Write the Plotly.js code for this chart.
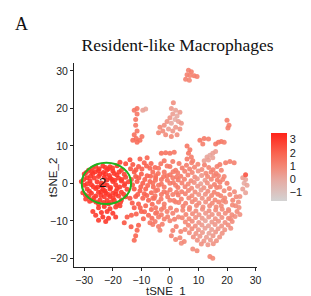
<!DOCTYPE html>
<html>
<head>
<meta charset="utf-8">
<script src="https://cdn.plot.ly/plotly-3.0.1.min.js"></script>
<style>html,body{margin:0;padding:0;background:#fff;}#chart{width:311px;height:296px;}</style>
</head>
<body>
<div id="chart"></div>
<script>
// Each cell: [tSNE_1, tSNE_2, expression]
const leftCluster = [
  [-26,4.5,3.0],[-23.5,4.6,3.1],[-21,4.4,2.9],[-18.5,4.7,3.0],
  [-28.5,3.5,2.9],[-25,3.4,3.2],[-22,3.6,3.0],[-20,3.3,3.1],[-17,3.5,2.8],
  [-30,2.5,3.0],[-27,2.6,3.1],[-24.5,2.4,3.2],[-22.5,2.5,2.9],[-19.5,2.6,3.0],[-16,2.4,2.8],
  [-29,1.5,3.1],[-26.5,1.4,3.0],[-23,1.6,3.2],[-21,1.5,3.0],[-18,1.4,2.9],[-15.5,1.6,2.7],
  [-31,0.5,3.0],[-28,0.6,3.2],[-25.5,0.4,3.1],[-20,0.5,3.0],[-17,0.6,2.9],[-14.5,0.4,2.8],
  [-30,-0.5,3.1],[-27.5,-0.4,3.0],[-24,-0.6,3.2],[-22,-0.5,3.1],[-19,-0.4,3.0],[-16,-0.6,2.8],
  [-29,-1.5,3.0],[-26,-1.4,3.1],[-23.5,-1.6,3.2],[-21,-1.5,3.0],[-18.5,-1.4,2.9],[-15,-1.6,2.8],
  [-30.5,-2.5,2.9],[-27.5,-2.6,3.1],[-25,-2.4,3.0],[-22.5,-2.5,3.2],[-20,-2.6,3.0],[-17,-2.4,2.9],
  [-28.5,-3.5,3.0],[-26,-3.4,3.1],[-23,-3.6,3.0],[-21,-3.5,3.2],[-18,-3.4,2.9],[-15.5,-3.6,2.8],
  [-27,-4.5,3.0],[-24.5,-4.4,3.1],[-22,-4.6,3.0],[-19.5,-4.5,2.9],[-17,-4.4,2.8],
  [-25,-5.5,3.0],[-21.5,-5.4,3.1],[-18.5,-5.6,2.9],
  [-27.5,3.1,3.0],[-24,0.1,3.1],[-21.5,3.9,3.0],[-19,-2.9,3.1],[-29.5,-4.2,2.9],[-17.5,5.6,2.8],
  [-15.5,5.2,2.6],[-14,6.3,2.5],[-22.8,-2.0,3.1],[-26.8,-0.9,3.0],[-20.4,1.1,3.1],
  [-27.2,4.0,3.0],[-24.8,3.9,3.1],[-22.6,4.2,3.0],[-20.1,4.1,2.9],[-17.8,3.0,2.9],[-29.3,2.9,3.0],
  [-26.1,3.1,3.1],[-23.3,2.9,3.2],[-21.2,2.1,3.0],[-18.6,2.2,3.0],[-16.9,1.0,2.9],[-30.2,1.0,3.0],
  [-27.8,1.9,3.1],[-25.0,1.8,3.0],[-22.1,0.9,3.2],[-19.3,0.8,3.0],[-15.8,-0.1,2.8],[-29.0,-0.1,3.0],
  [-25.3,-1.0,3.1],[-23.0,-0.2,3.0],[-20.8,-1.1,3.1],[-17.6,-1.0,2.9],[-28.2,-2.1,3.0],[-24.1,-2.2,3.1],
  [-21.6,-3.0,3.0],[-18.9,-2.1,3.0],[-16.2,-2.9,2.8],[-29.6,-3.1,2.9],[-26.7,-3.9,3.0],[-24.2,-3.2,3.1],
  [-19.9,-3.9,3.0],[-17.3,-5.0,2.8],[-25.9,-5.0,3.0],[-23.2,-5.1,3.1],[-20.6,-5.0,2.9],[-28.1,-4.8,2.9]
];
const belowCluster = [
  [-25,-6.5,3.0],[-23,-6.2,3.1],[-21,-6.8,3.0],[-19,-6.3,2.9],[-24,-7.8,3.1],[-22,-7.5,3.0],
  [-20,-8.0,3.0],[-26,-8.5,2.9],[-23.5,-9.0,3.1],[-21.5,-9.3,3.0],[-25,-9.8,2.9],[-19,-9.0,2.9],
  [-22.5,-10.2,3.0],[-27,-7.5,2.9],[-17.5,-6.0,2.8]
];
const midLeft = [
  [-13,5,2.3],[-11,4.5,2.2],[-9,5.5,2.0],[-7,4,1.9],[-12.5,3,2.3],[-10,2.5,2.1],[-8,2,2.0],[-6,3,1.8],
  [-13.5,1,2.4],[-11.5,0.5,2.2],[-9.5,0,2.1],[-7,0.5,1.9],[-5,1.5,1.7],[-12.5,-1.5,2.3],[-10.5,-2,2.1],
  [-8.5,-1.5,2.0],[-6.5,-2.5,1.8],[-12,-3.5,2.2],[-9.5,-4,2.0],[-7.5,-4.5,1.9],[-5.5,-4,1.7],
  [-11,-5.5,2.1],[-8.5,-6,1.9],[-6.5,-7,1.8],[-10,-7.5,2.0],[-7.5,-8.5,1.8],[-5,-8,1.6],
  [-12.5,-6.5,2.2],[-14,-4,2.4],[-13.5,-8.5,2.1],[-15,-9,2.2],[-16,-10.5,2.3],
  [-13.6,-11.6,2.2],[-11,-11.2,2.0],[-11.5,-12.5,1.9],[-12,-14,1.9],[-12.5,-15.2,1.8],
  [-10.5,6.5,2.0],[-8,6.8,1.9],[-12,1.8,2.3],[-9,-2.8,2.0],
  [-13.8,3.9,2.3],[-11.9,3.6,2.2],[-9.8,3.8,2.1],[-8.2,4.6,2.0],[-6.6,5.3,1.9],[-5.2,4.2,1.8],
  [-10.9,1.5,2.2],[-8.8,1.0,2.0],[-6.8,1.9,1.9],[-13.1,-0.4,2.3],[-10.2,-0.9,2.1],[-7.8,-0.6,1.9],
  [-5.8,-1.0,1.8],[-11.3,-3.0,2.1],[-8.1,-3.2,2.0],[-6.2,-5.6,1.8],[-13.2,-5.2,2.2],[-10.4,-6.5,2.0],
  [-8.9,-7.6,1.9],[-11.8,-8.2,2.0],[-9.3,-9.4,1.9],[-6.3,-9.3,1.7]
];
const mainLeft = [
  [-4,4,1.6],[-2,3,1.5],[0,4.5,1.4],[2,3.5,1.3],[-5,2,1.6],[-3,1,1.5],[-1,2,1.4],[1,1.5,1.3],
  [-6,0,1.6],[-4,-0.5,1.5],[-2,-1,1.4],[0,0,1.3],[2,-0.5,1.2],[-5,-2,1.5],[-3,-3,1.4],[-1,-2.5,1.3],
  [1,-3,1.2],[-6,-4,1.5],[-4,-5,1.4],[-2,-5.5,1.3],[0,-4.5,1.2],[2,-5,1.1],[-5,-6.5,1.4],[-3,-7,1.3],
  [-1,-7.5,1.2],[1,-8,1.1],[-4,-9,1.3],[-2,-9.5,1.2],[0,-10,1.0],[3,-9,0.9],[-6,-11,1.3],[-4,-11.5,1.2],
  [-3.5,-12.5,1.1],[-7,-10.5,1.4],[-2,6,1.5],[1,5.8,1.3],
  [-3,8,1.6],[-1.5,8.2,1.5],[0,8,1.5],[1.5,8.3,1.4],
  [-3.2,5.2,1.5],[-1,4.6,1.4],[1.1,3.1,1.3],[-4.1,2.6,1.6],[-2.2,1.8,1.5],[0.1,2.3,1.4],[2.4,1.7,1.3],
  [-5.1,0.8,1.6],[-3,-0.2,1.5],[-0.9,0.8,1.4],[1.2,0.2,1.3],[-4.3,-1.8,1.5],[-2.1,-2.2,1.4],[0.1,-1.7,1.3],
  [2.3,-2.4,1.2],[-5.2,-3.3,1.5],[-3.1,-4.2,1.4],[-0.8,-3.6,1.3],[1.4,-4.6,1.2],[-4.6,-7.8,1.4],
  [-2.1,-6.4,1.3],[0.2,-6.6,1.2],[2.3,-7.2,1.1],[-3,-8.4,1.3],[-0.8,-8.9,1.2],[1.6,-9.6,1.1],
  [-5.2,-10.2,1.3],[-2.7,-10.9,1.2]
];
const mainBlob = [
  [3.2,5.3,1.3],[5.8,4.8,1.2],[7.6,5.5,1.1],[9.8,5.1,1.0],[12.1,4.9,1.1],
  [4.3,4.1,1.3],[6.9,3.8,1.1],[8.6,4.3,1.0],[11.2,3.7,0.8],[13.6,4.2,1.0],[15.1,3.6,1.1],
  [2.7,2.8,1.3],[5.2,3.2,1.2],[7.8,2.9,1.0],[9.9,3.3,0.7],[12.6,2.7,0.9],[14.4,3.0,1.1],[16.2,2.6,1.2],
  [3.8,1.9,1.3],[6.3,2.2,1.1],[8.7,1.7,0.8],[11.1,2.1,0.5],[13.2,1.8,0.9],[15.4,2.0,1.1],
  [2.9,0.9,1.3],[5.1,1.1,1.1],[7.4,0.7,0.9],[9.6,1.2,0.5],[12.3,0.8,0.4],[14.5,1.1,1.0],[16.6,0.9,1.2],
  [4.2,0.1,1.2],[6.4,-0.2,1.0],[8.5,0.2,0.7],[10.8,-0.1,0.3],[13.1,0.1,0.7],[15.6,-0.3,1.1],
  [2.8,-1.1,1.3],[5.3,-0.9,1.1],[7.6,-1.3,0.9],[9.7,-0.8,0.5],[11.9,-1.2,0.6],[14.2,-0.9,1.0],[16.4,-1.1,1.1],
  [4.1,-2.2,1.2],[6.5,-1.9,1.0],[8.8,-2.3,0.8],[10.9,-1.8,0.4],[13.3,-2.1,0.8],[15.5,-2.4,1.1],
  [2.9,-3.1,1.3],[5.4,-2.8,1.1],[7.7,-3.3,0.9],[10.1,-3.0,0.6],[12.4,-2.9,0.7],[14.6,-3.2,1.0],[16.8,-2.9,1.1],
  [4.0,-4.2,1.2],[6.6,-3.9,1.0],[8.9,-4.3,0.8],[11.3,-4.0,0.6],[13.6,-4.1,0.9],[15.8,-4.4,1.0],
  [3.1,-5.1,1.2],[5.5,-5.3,1.1],[7.8,-4.9,0.9],[10.2,-5.2,0.8],[12.5,-5.0,0.7],[14.8,-5.3,0.9],[17.1,-5.0,1.0],
  [4.6,-6.1,1.1],[6.9,-6.4,1.0],[9.3,-5.9,0.9],[11.6,-6.3,0.7],[13.9,-6.0,0.8],[16.2,-6.3,0.9]
];
const rightSide = [
  [17,2,1.1],[18.5,1,1.0],[17.5,-1,1.0],[19,-2,0.9],[20,0,1.1],[21,-3,0.9],[22,-4.5,1.0],
  [19.5,-5,0.8],[18,-6,0.9],[20.5,-7,0.7],[23,-6,0.8],[24,-5,0.7],[23.5,-7.5,0.8],[24.5,-3.5,0.6],
  [25.5,1.5,0.3],[26.5,1,0.1],[26,0,-0.1],[27,-0.5,0.1],[25.5,-1.5,0.2],[26.5,-2.5,0.1],[26.5,2.3,2.4],
  [16.5,4.5,1.1],[17.5,5,1.2],[18,3.5,1.0],[19.5,5.5,1.2],[21,5.8,1.1],[22.5,5.5,1.1],
  [17.8,-3.3,1.0],[19.2,-3.9,0.9],[20.8,-1.4,1.0],[21.9,-5.8,0.9],[22.6,-2.2,0.8],[18.6,-4.6,0.9],
  [21.2,-9.4,0.8],[22.8,-8.8,0.7],[24.2,-6.4,0.7],[23.2,-3.6,0.8],[17.5,0.3,1.1],[19.0,1.8,1.0],[24.5,-8.3,0.7]
];
const lowerBlob = [
  [4.5,-7.2,1.0],[6.8,-7.0,0.9],[9.1,-7.4,0.8],[11.4,-6.9,0.7],[13.7,-7.3,0.7],[16.0,-7.1,0.8],[18.3,-6.9,0.9],[20.6,-7.3,0.8],
  [5.6,-8.3,1.0],[7.9,-8.1,0.8],[10.2,-8.4,0.6],[12.5,-8.0,0.5],[14.8,-8.3,0.6],[17.1,-8.2,0.7],[19.4,-8.0,0.8],[21.7,-8.4,0.8],
  [4.3,-9.2,1.0],[6.7,-9.4,0.9],[9.0,-9.1,0.7],[11.3,-9.3,0.4],[13.6,-9.0,0.5],[15.9,-9.4,0.6],[18.2,-9.1,0.7],[20.5,-9.3,0.8],
  [5.4,-10.3,0.9],[7.8,-10.1,0.8],[10.1,-10.4,0.5],[12.4,-10.0,0.1],[14.7,-10.3,0.4],[17.0,-10.1,0.6],[19.3,-10.4,0.7],[21.8,-10.2,0.8],
  [6.5,-11.2,0.9],[8.9,-11.4,0.7],[11.2,-11.1,0.4],[13.5,-11.3,0.2],[15.8,-11.0,0.5],[18.1,-11.4,0.6],[20.4,-11.1,0.7],
  [5.3,-12.3,0.9],[7.7,-12.1,0.8],[10.0,-12.4,0.5],[12.3,-12.0,0.2],[14.6,-12.3,0.3],[16.9,-12.1,0.5],[19.2,-12.4,0.6],[21.3,-12.0,0.7],
  [6.8,-13.2,0.8],[9.1,-13.4,0.6],[11.4,-13.1,0.4],[13.7,-13.3,0.2],[16.0,-13.0,0.5],[18.3,-13.3,0.6],
  [8.2,-14.3,0.7],[10.5,-14.1,0.5],[12.8,-14.4,0.3],[15.1,-14.0,0.5],[17.4,-14.3,0.6],
  [9.6,-15.2,0.7],[11.9,-15.4,0.5],[14.2,-15.1,0.4],[16.3,-15.3,0.6],
  [11.0,-16.2,0.7],[13.3,-16.4,0.5],[15.2,-16.1,0.6],
  [0.5,-14,1.1],[2,-15,1.0],[3.5,-14.5,0.9],[5,-15.5,0.9],[4,-16,0.8],
  [8,-17.5,0.8],[9.5,-18,0.9],[14,-19.5,1.0],[15,-20,0.9],
  [2.2,-11.5,1.1],[3.8,-12.8,1.0],[1.0,-12.6,1.1]
];
const upperIslands = [
  [6.5,30.2,1.1],[7.5,29.8,1.2],[6,29,1.1],[7,28.8,1.0],[5.5,27.8,1.1],[8.5,28.7,1.2],[9.5,28.5,1.1],[6.8,27.5,1.0],
  [-12.5,19.5,1.4],[-11.5,20,1.5],[-11.5,18.5,1.4],[-9.5,19.5,0.2],[-8.5,19.8,0.1],[-12,17,1.5],[-12,15.5,1.4],
  [-11.5,14,1.5],[-12.5,13,1.6],[-11.8,12,1.6],[-13,11.5,1.7],[-10.5,11.5,1.6],[-11.5,11,1.7],[-9.8,12.5,1.5],
  [1.2,21.5,0.7],[0.5,20,0.4],[2,19.5,0.1],[1,18.5,0.3],[2.5,18,-0.1],[0,17.5,0.5],[1.8,17,-0.2],[-1,16.5,0.6],
  [3,16.5,0.2],[0.5,16,0.0],[-2,15.5,0.7],[-3.5,15,0.9],[2,15,0.4],[-0.5,14.5,0.3],[-2.5,14,0.8],[1,14,0.5],
  [3.5,14.5,0.6],[-4,13.5,1.0],[-1.5,13,0.8],[0.5,12.5,0.9],[2.5,13,0.7],[4,16,0.5],[3.5,19,0.4],
  [20,16.8,1.2],[20.7,15.5,1.1],[20.3,14.8,1.2],
  [6,10,1.4],[7,9,1.3],[6.5,8,1.4],[7.5,7,1.2],[6,6.5,1.3],[8,6,1.1],
  [10.5,11.5,1.4],[12,12,1.3],[11.5,10.5,1.2],[13.5,11.8,1.2],
  [16,10.5,1.3],[17,11,1.4],[18,11.2,1.3],[19,11,1.2],
  [12,6,0.3],[13,7,0.1],[14,7.5,0.0],[15,8,0.2],[16,8.5,0.3],[13.5,6.2,0.2],[15,6.8,0.1]
];

const cells = [].concat(leftCluster, belowCluster, midLeft, mainLeft, mainBlob, rightSide, lowerBlob, upperIslands);
const tsne1 = cells.map(c => c[0]);
const tsne2 = cells.map(c => c[1]);
const expr = cells.map(c => c[2]);
const colorTicks = [-1, 0, 1, 2, 3];
const axisTicks = [-30, -20, -10, 0, 10, 20, 30];
const clusterLabel = {text: '2', x: -23.6, y: 0.3};
const clusterEllipse = {x0: -30.9, x1: -13.6, y0: -5.5, y1: 5.5};

const trace = {
  type: 'scatter', mode: 'markers', x: tsne1, y: tsne2,
  hoverinfo: 'none',
  marker: {
    size: 5, opacity: 0.9, color: expr, cmin: -1.7, cmax: 3.5,
    colorscale: [[0, 'rgb(211,211,211)'], [0.3, 'rgb(230,172,164)'], [0.5, 'rgb(243,136,118)'], [0.7, 'rgb(249,100,80)'], [1, 'rgb(255,35,25)']],
    line: {width: 0},
    colorbar: {
      x: 1.075, xanchor: 'left', y: 0.49, yanchor: 'middle',
      len: 68, lenmode: 'pixels', thickness: 16, outlinewidth: 0,
      xpad: 0, ypad: 0, tickvals: colorTicks, ticks: '',
      tickfont: {family: 'Liberation Sans, Arial, sans-serif', size: 11, color: '#222'}
    }
  }
};

const font = 'Liberation Sans, Arial, sans-serif';
const axisCommon = {
  showgrid: false, zeroline: false, showline: true, linecolor: '#222', linewidth: 1,
  ticks: 'outside', ticklen: 3, tickcolor: '#222', tickvals: axisTicks,
  tickfont: {family: font, size: 10.5, color: '#222'}, fixedrange: true
};

const layout = {
  width: 311, height: 296,
  margin: {l: 74, r: 51, t: 63, b: 29},
  paper_bgcolor: '#fff', plot_bgcolor: '#fff',
  showlegend: false,
  title: {
    text: 'Resident-like Macrophages', xref: 'container', x: 0.571, xanchor: 'center',
    yref: 'container', y: 1 - 45 / 296, yanchor: 'middle',
    font: {family: 'Liberation Serif, serif', size: 17.5, color: '#111'}
  },
  xaxis: Object.assign({}, axisCommon, {range: [-33.6, 30.5]}),
  yaxis: Object.assign({}, axisCommon, {range: [-22.3, 32.1]}),
  shapes: [{
    type: 'circle', xref: 'x', yref: 'y',
    x0: clusterEllipse.x0, x1: clusterEllipse.x1, y0: clusterEllipse.y0, y1: clusterEllipse.y1,
    line: {color: 'rgb(30,178,30)', width: 2}
  }],
  annotations: [
    {text: clusterLabel.text, x: clusterLabel.x, y: clusterLabel.y, xref: 'x', yref: 'y', showarrow: false,
     font: {family: font, size: 13, color: '#111'}},
    {text: 'A', xref: 'paper', yref: 'paper', x: (21 - 74) / 186, y: (267 - 24) / 204, showarrow: false,
     xanchor: 'center', yanchor: 'middle', font: {family: 'Liberation Serif, serif', size: 18, color: '#111'}},
    {text: 'tSNE_1', xref: 'paper', yref: 'paper', x: 0.5, y: (267 - 291) / 204, showarrow: false,
     xanchor: 'center', yanchor: 'middle', font: {family: font, size: 11.5, color: '#222'}},
    {text: 'tSNE_2', xref: 'paper', yref: 'paper', x: (53 - 74) / 186, y: (267 - 177) / 204, showarrow: false,
     textangle: -90, xanchor: 'center', yanchor: 'middle', font: {family: font, size: 11.5, color: '#222'}}
  ]
};

Plotly.newPlot('chart', [trace], layout, {displayModeBar: false, staticPlot: true});
</script>
</body>
</html>
